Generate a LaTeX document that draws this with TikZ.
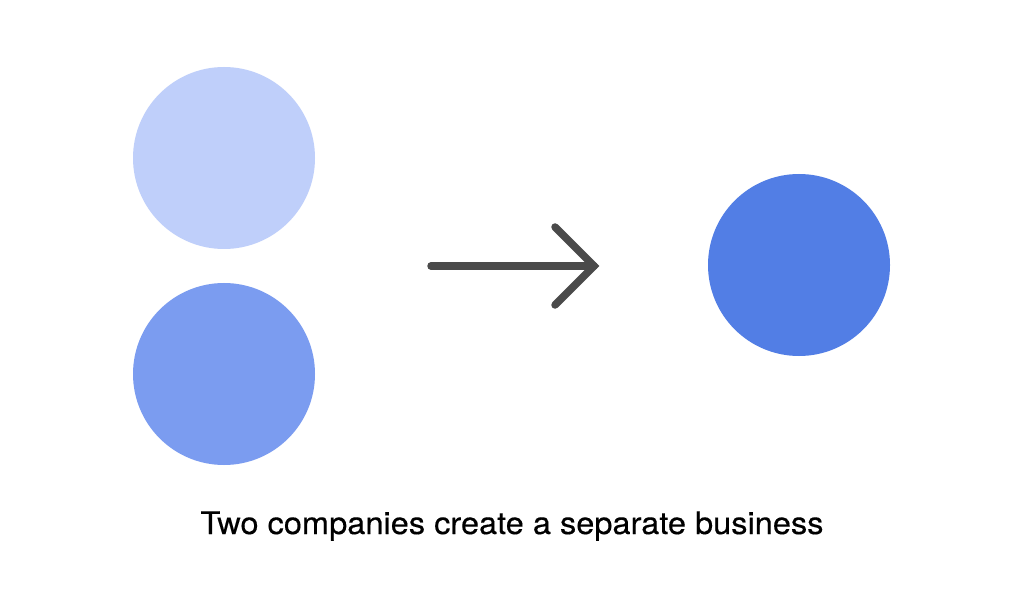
\documentclass[tikz,border=0pt]{standalone}
\usepackage{fontspec}
\setmainfont{TeX Gyre Heros}
\newfontfamily\capfont[FakeStretch=1.05,FakeBold=0.3]{TeX Gyre Heros}
\definecolor{lightc}{HTML}{BFCFFA}
\definecolor{midc}{HTML}{7B9CF0}
\definecolor{darkc}{HTML}{527EE5}
\definecolor{arrowc}{HTML}{4A4A4A}
\begin{document}
\begin{tikzpicture}[x=1pt,y=-1pt,
  blob/.style={circle,minimum size=182pt,inner sep=0pt,draw=none},
  arrowline/.style={draw=arrowc,line width=7.5pt,line cap=round,line join=miter},
  caption/.style={font=\capfont\fontsize{31}{36}\selectfont,text=black,inner sep=0pt}]
\useasboundingbox[fill=white] (0,0) rectangle (1024,601);
\node[blob,fill=lightc] (c1) at (224,158) {};
\node[blob,fill=midc] (c2) at (224,374) {};
\node[blob,fill=darkc] (c3) at (799,265) {};
\coordinate (a0) at (431,266);
\coordinate (tip) at (594,266);
\coordinate (u) at (555,227);
\coordinate (d) at (555,305);
\draw[arrowline] (a0) -- (tip);
\draw[arrowline] (u) -- (tip) -- (d);
\node[caption,anchor=base] (cap) at (512,534) {Two companies create a separate business};
\end{tikzpicture}
\end{document}
